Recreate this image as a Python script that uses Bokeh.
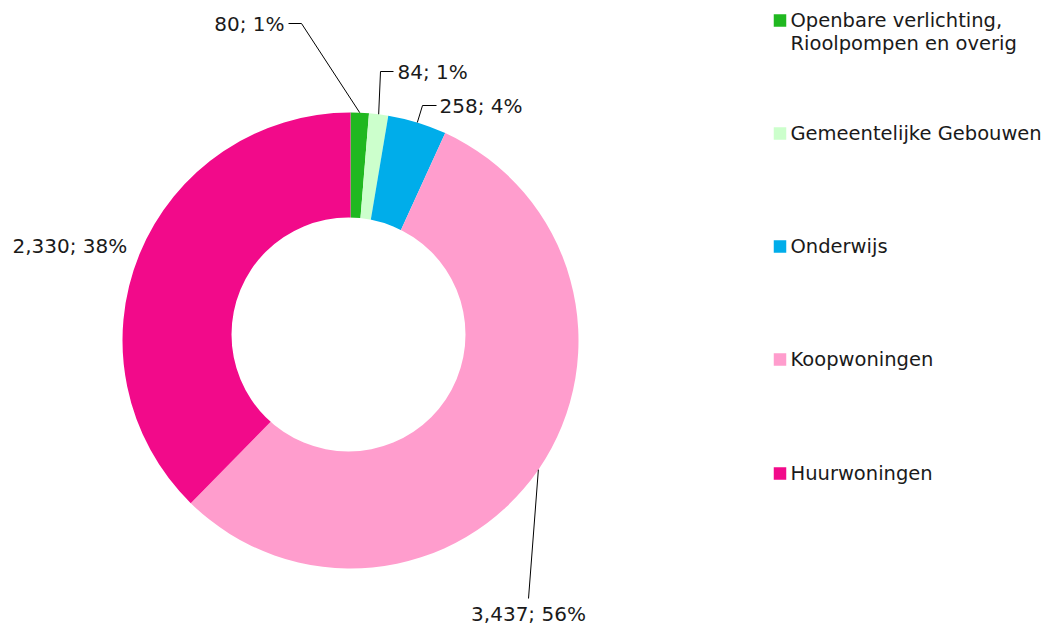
import math
from bokeh.plotting import figure
from bokeh.models import Range1d, ColumnDataSource
from bokeh.core.properties import value
from bokeh.embed import file_html
from bokeh.resources import INLINE

# ---- data ----
categories = ["Openbare verlichting,\nRioolpompen en overig", "Gemeentelijke Gebouwen",
              "Onderwijs", "Koopwoningen", "Huurwoningen"]
values = [80, 84, 258, 3437, 2330]
pct_labels = ["80; 1%", "84; 1%", "258; 4%", "3,437; 56%", "2,330; 38%"]
colors = ["#20b820", "#ccffcc", "#00adea", "#ff9dcd", "#f20a8a"]

W, H = 1046, 628
def sy(y):  # screen y (page px) -> data y
    return H - y
def sx(x):
    return x

p = figure(width=W, height=H, output_backend="svg", toolbar_location=None,
           x_range=Range1d(0, W), y_range=Range1d(0, H),
           min_border=0, outline_line_color=None)
p.axis.visible = False
p.grid.visible = False
p.background_fill_color = "white"

cx, cy = 350, 340
r_out = 228
hole_cx, hole_cy, r_in = 348, 334, 117
total = sum(values)
starts, ends, mids = [], [], []
acc = 0
for v in values:
    a0 = acc / total
    acc += v
    a1 = acc / total
    starts.append(math.pi / 2 - a0 * 2 * math.pi)
    ends.append(math.pi / 2 - a1 * 2 * math.pi)
    mids.append(math.pi / 2 - (a0 + a1) / 2 * 2 * math.pi)

src = ColumnDataSource(dict(start=starts, end=ends, color=colors))
p.wedge(x=sx(cx), y=sy(cy), radius=r_out,
        start_angle="start", end_angle="end", direction="clock",
        fill_color="color", line_color=None, source=src)
# doughnut hole
p.circle(x=[sx(hole_cx)], y=[sy(hole_cy)], radius=r_in, fill_color="white", line_color=None)

# ---- labels with leader lines ----
font = value("DejaVu Sans")
# (text x, text y, align, elbow points in screen coords) -- layout only
label_layout = [
    (284, 23, "right", [(288, 23), (301, 23)]),
    (397, 71, "left", [(393, 71), (380, 71)]),
    (439, 105, "left", [(436, 105), (422, 105)]),
    (528, 613, "center", [(528, 598)]),
    (12, 245, "left", []),
]
for i, (tx, ty, al, pts) in enumerate(label_layout):
    if pts:
        ax = cx + r_out * math.cos(mids[i])
        ay = cy - r_out * math.sin(mids[i])
        xs = [sx(x) for x, _ in pts] + [sx(ax)]
        ys = [sy(y) for _, y in pts] + [sy(ay)]
        p.line(xs, ys, line_color="black", line_width=1)
    p.text(x=[sx(tx)], y=[sy(ty)], text=[pct_labels[i]], text_align=al,
           text_baseline="middle", text_font=font, text_font_size="20px",
           text_color="#1a1a1a")

# ---- legend ----
leg_y = [20, 133, 246, 359, 473]
for i, cat in enumerate(categories):
    p.rect(x=[sx(779.5)], y=[sy(leg_y[i])], width=12.5, height=12.5,
           fill_color=colors[i], line_color=None)
    lines = cat.split("\n")
    for j, ln in enumerate(lines):
        p.text(x=[sx(790)], y=[sy(leg_y[i] + j * 23)], text=[ln], text_align="left",
               text_baseline="middle", text_font=font, text_font_size="19.5px",
               text_color="#1a1a1a")

open("out.html", "w").write(file_html(p, INLINE))
